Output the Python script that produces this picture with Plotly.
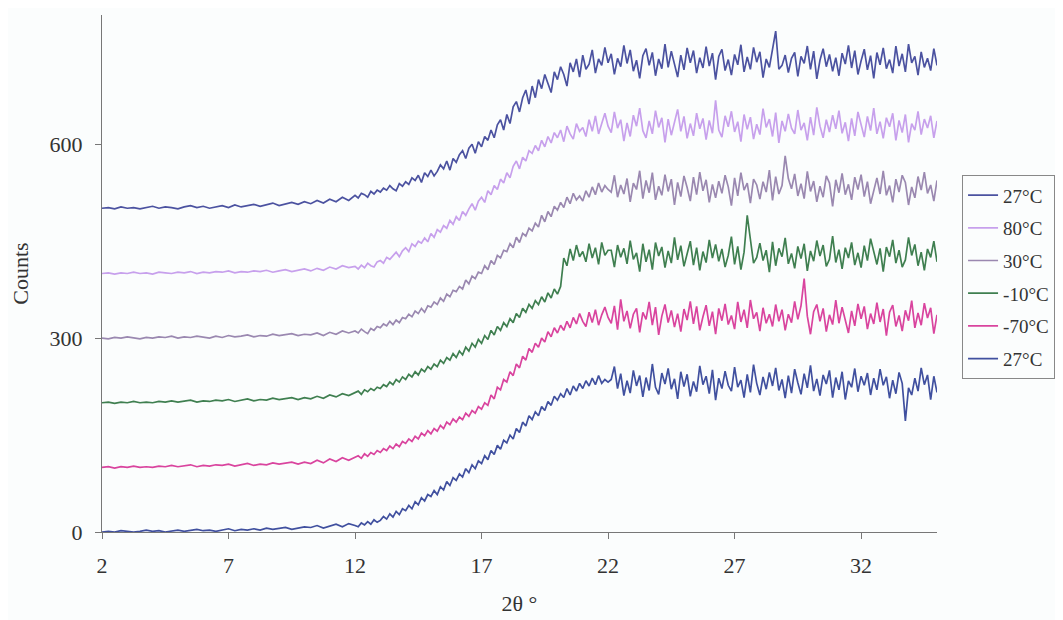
import numpy as np
import plotly.graph_objects as go

# 2-theta grid (degrees): 0.25 steps over the flat part, 0.125 steps from 12 to 35
two_theta = np.round(np.concatenate([np.arange(2.0, 12.0, 0.25), np.arange(12.0, 35.001, 0.125)]), 3)

labels = ["27°C", "80°C", "30°C", "-10°C", "-70°C", "27°C"]
colors = ["#4b52a0", "#c7a0ec", "#9a88b0", "#3f7f50", "#d9449e", "#40509f"]

counts_27a = [
    501, 502, 500, 503, 501, 502, 500, 502, 504, 501,
    503, 502, 500, 503, 505, 502, 504, 501, 503, 505,
    502, 506, 503, 505, 507, 504, 506, 509, 505, 508,
    510, 507, 511, 508, 513, 509, 515, 511, 518, 513,
    521, 517, 524, 522, 518, 527, 523, 529,
    526, 532, 529, 536, 531, 528, 539, 535,
    542, 538, 548, 544, 552, 541, 556, 550,
    560, 551, 558, 568, 562, 574, 560, 578,
    572, 584, 590, 578, 594, 600, 586, 604,
    596, 612, 606, 622, 610, 630, 638, 622,
    646, 632, 658, 666, 650, 672, 684, 662,
    690, 672, 700, 686, 708, 694, 680, 712,
    700, 720, 708, 690, 726, 712, 732, 704,
    738, 716, 724, 746, 710, 732, 722, 750,
    726,
    740, 708, 733, 720, 753, 725, 746, 713, 730, 702,
    737, 748, 722, 742, 706, 732, 717, 755, 719, 744,
    724, 704, 738, 715, 749, 726, 745, 710, 734, 718,
    751, 721, 741, 700, 736, 747, 714, 731, 707, 739,
    723, 754, 712, 735, 716, 750, 727, 743, 703, 732,
    719, 746, 775, 716, 722, 738, 711, 733, 742, 705,
    736, 725, 752, 716, 744, 701, 730, 748, 720, 739,
    713, 734, 706, 741, 724, 753, 718, 745, 708, 729,
    747, 715, 737, 702, 742, 723, 749, 717, 731, 710,
    752, 721, 740, 712, 755, 726, 736, 707, 743, 719,
    733, 714, 748, 722,
]

counts_80 = [
    400, 401, 399, 401, 400, 402, 400, 401, 399, 402,
    401, 400, 402, 401, 403, 400, 402, 401, 403, 402,
    404, 401, 403, 402, 404, 403, 405, 402, 404, 406,
    403, 405, 407, 404, 408, 405, 410, 407, 412, 409,
    411, 407, 413, 409, 416, 412, 410, 418,
    420, 416, 425, 422, 428, 433, 426, 435,
    440, 434, 446, 442, 450, 447, 455, 449,
    462, 456, 468, 464, 474, 470, 482, 476,
    488, 482, 496, 490, 500, 508, 498, 512,
    518, 510, 528, 522, 536, 530, 546, 540,
    556, 548, 566, 574, 562, 580, 574, 590,
    586, 598, 590, 606, 596, 612, 602, 618,
    610, 622, 604, 628, 616, 608, 632, 620,
    626, 612, 638, 620, 644, 616, 632, 648,
    628,
    618, 650, 625, 638, 605, 633, 612, 645, 628, 656,
    621, 610, 636, 616, 652, 626, 641, 603, 639, 614,
    634, 654, 620, 643, 609, 632, 613, 648, 624, 640,
    607, 637, 617, 668, 622, 611, 644, 627, 651, 619,
    635, 604, 646, 623, 642, 608, 631, 615, 655, 626,
    639, 612, 649, 602, 636, 620, 647, 625, 616, 653,
    622, 633, 606, 642, 614, 657, 628, 610, 638, 619,
    645, 624, 652, 617, 634, 605, 640, 613, 650, 629,
    611, 643, 621, 656, 616, 635, 609, 641, 627, 648,
    606, 637, 618, 646, 603, 632, 622, 651, 615, 639,
    625, 644, 610, 636,
]

counts_30 = [
    300, 299, 301, 300, 302, 300, 299, 301, 300, 302,
    301, 303, 300, 302, 301, 303, 302, 300, 303, 301,
    304, 302, 303, 305, 302, 304, 303, 306, 304, 305,
    307, 304, 306, 305, 308, 304, 309, 306, 311, 308,
    311, 308, 314, 310, 307, 315, 312, 318,
    316, 322, 319, 326, 321, 328, 324, 332,
    330, 337, 333, 342, 338, 346, 340, 350,
    348, 356, 352, 362, 357, 368, 364, 374,
    372, 380, 376, 390, 384, 396, 392, 402,
    400, 412, 406, 420, 414, 428, 424, 436,
    434, 446, 440, 456, 448, 462, 458, 470,
    466, 478, 472, 490, 480, 496, 488, 504,
    498, 510, 502, 518, 508, 524, 514, 520,
    512, 528, 518, 534, 522, 540, 526, 536,
    530,
    526, 552, 518, 537,
    523, 547, 511, 540, 530, 559, 516, 544, 525, 556,
    514, 535, 521, 553, 527, 546, 506, 541, 519, 551,
    533, 512, 549, 522, 557, 528, 545, 510, 538, 517,
    543, 524, 552, 534, 505, 548, 520, 556, 529, 540,
    509, 546, 537, 515, 542, 526, 560, 513, 550, 523,
    536, 582, 547, 531, 554, 520, 539, 516, 558, 527,
    543, 511, 535, 518, 551, 540, 504, 545, 525, 555,
    522, 538, 514, 549, 530, 553, 519, 542, 508, 528,
    548, 523, 559, 521, 536, 510, 546, 526, 552, 541,
    506, 534, 517, 550, 529, 557, 524, 537, 512, 544,
]

counts_m10 = [
    200, 201, 199, 201, 200, 202, 200, 201, 200, 202,
    201, 203, 201, 202, 204, 201, 203, 202, 204, 203,
    205, 202, 204, 206, 203, 205, 204, 207, 205, 206,
    208, 205, 208, 206, 210, 207, 212, 209, 214, 211,
    215, 218, 213, 220, 217, 222, 219, 224,
    222, 228, 225, 232, 228, 236, 232, 240,
    236, 244, 240, 248, 243, 252, 248, 256,
    252, 260, 256, 266, 261, 270, 266, 276,
    270, 280, 274, 286, 280, 292, 286, 298,
    292, 304, 298, 312, 305, 318, 312, 324,
    318, 330, 324, 338, 332, 346, 340, 352,
    346, 358, 352, 364, 356, 370, 362, 376,
    368, 380, 424, 412, 438, 420, 444, 426,
    434, 418, 446, 424, 440, 414, 448, 428,
    436,
    436, 410, 444, 425,
    439, 415, 451, 422, 432, 403, 446, 418, 437, 406,
    448, 427, 441, 409, 435, 416, 456, 421, 443, 411,
    429, 450, 413, 440, 405, 434, 417, 452, 424, 445,
    419, 438, 410, 428, 457, 414, 442, 406, 433, 490,
    453, 416, 425, 447, 420, 436, 402, 449, 412, 439,
    426, 455, 415, 431, 408, 442, 423, 446, 404, 435,
    419, 451, 427, 444, 411, 422, 458, 417, 437, 407,
    440, 424, 448, 413, 432, 409, 443, 420, 454, 434,
    414, 439, 403, 441, 426, 452, 416, 436, 410, 421,
    456, 428, 445, 412, 433, 405, 438, 425, 450, 418,
]

counts_m70 = [
    100, 101, 99, 101, 100, 102, 100, 101, 100, 102,
    101, 103, 101, 102, 104, 101, 103, 102, 104, 103,
    105, 102, 104, 106, 103, 105, 104, 107, 105, 106,
    108, 105, 108, 106, 111, 107, 113, 109, 115, 111,
    115, 118, 114, 121, 117, 123, 120, 126,
    123, 129, 126, 133, 129, 136, 132, 140,
    137, 144, 140, 148, 144, 153, 149, 157,
    152, 160, 156, 165, 160, 170, 166, 175,
    170, 178, 174, 184, 179, 188, 184, 194,
    190, 200, 196, 212, 206, 224, 220, 236,
    232, 248, 242, 260, 254, 272, 266, 284,
    278, 292, 286, 300, 294, 310, 302, 316,
    308, 320, 312, 326, 316, 332, 322, 338,
    326, 318, 340, 324, 344, 320, 336, 348,
    332,
    323, 350, 313, 360, 326, 342, 315, 337, 346, 309,
    340, 329, 356, 320, 348, 305, 334, 352, 324, 343,
    317, 338, 310, 345, 328, 357, 322, 349, 312, 333,
    351, 319, 341, 306, 346, 327, 353, 321, 335, 314,
    356, 325, 344, 316, 359, 330, 340, 311, 347, 323,
    337, 318, 352, 326,
    344, 312, 337, 324, 357, 329, 350, 392, 334, 306,
    341, 352, 326, 346, 310, 336, 321, 359, 323, 348,
    328, 308, 342, 319, 353, 330, 349, 314, 338, 322,
    355, 325, 345, 304, 340, 351, 318, 335, 311, 343,
    327, 358, 316, 339, 320, 354, 331, 347, 307, 336,
]

counts_27b = [
    0, 1, 0, 2, 1, 0, 1, 3, 1, 2,
    0, 2, 3, 1, 2, 4, 2, 3, 1, 3,
    5, 2, 4, 3, 5, 3, 6, 4, 5, 7,
    4, 6, 8, 7, 10, 6, 9, 12, 8, 13,
    10, 8, 14, 11, 16, 12, 19, 15,
    18, 24, 20, 28, 23, 32, 27, 36,
    33, 41, 36, 47, 42, 53, 48, 58,
    55, 64, 58, 70, 65, 78, 72, 84,
    80, 90, 85, 98, 92, 104, 98, 110,
    106, 118, 112, 126, 120, 134, 128, 142,
    138, 150, 144, 160, 154, 170, 164, 180,
    174, 186, 180, 194, 188, 202, 196, 210,
    204, 214, 208, 222, 212, 226, 218, 230,
    222, 234, 226, 238, 228, 242, 230, 236,
    232,
    236, 256, 222, 245, 211, 234, 215, 250, 226, 242,
    209, 239, 219, 260, 224, 213, 246, 229, 253, 221,
    237, 206, 248, 225, 244, 210, 233, 217, 257, 228,
    241, 214, 251, 204, 238, 222, 249, 227, 218, 255,
    224, 235, 208, 244, 216, 259, 230, 212, 240, 221,
    247, 226, 254, 219, 236, 207, 242, 215, 252, 231,
    213, 245, 223, 258, 218, 237, 211, 243, 229, 250,
    208, 239, 220, 248, 205, 234, 224, 253, 217, 241,
    227, 246, 212, 238,
    220, 252, 227, 240, 207, 235, 214, 247, 230, 172,
    223, 212, 238, 218, 254, 228, 243, 205, 241, 216,
]

series = [counts_27a, counts_80, counts_30, counts_m10, counts_m70, counts_27b]

x_ticks = [2, 7, 12, 17, 22, 27, 32]
y_ticks = [0, 300, 600]

font_family = "Liberation Serif, Times New Roman, serif"

fig = go.Figure()
for i, (name, col, ys) in enumerate(zip(labels, colors, series)):
    fig.add_trace(go.Scatter(
        x=two_theta, y=ys, mode="lines", name=name,
        line=dict(color=col, width=1.7),
        legendgroup=f"g{i}",
    ))

fig.update_layout(
    width=1063, height=620,
    margin=dict(l=94, r=134, t=7, b=96),
    paper_bgcolor="#fbfdfd", plot_bgcolor="#fbfdfd",
    font=dict(family=font_family, size=22, color="#333333"),
    showlegend=True,
    legend=dict(
        x=1.03, y=0.69, xanchor="left", yanchor="top",
        bordercolor="#888888", borderwidth=1, bgcolor="#fbfdfd",
        font=dict(family=font_family, size=19, color="#333333"),
        tracegroupgap=5, itemwidth=30,
    ),
    xaxis=dict(
        range=[2, 35], tickvals=x_ticks, ticktext=[str(v) for v in x_ticks],
        showgrid=False, zeroline=False, showline=True, linecolor="#777777", linewidth=1,
        ticks="outside", ticklen=6, tickcolor="#777777", ticklabelstandoff=8,
        tickfont=dict(family=font_family, size=22),
        title=dict(text="2θ °", standoff=18, font=dict(family=font_family, size=22)),
    ),
    yaxis=dict(
        range=[0, 800], tickvals=y_ticks, ticktext=[str(v) for v in y_ticks],
        showgrid=False, zeroline=False, showline=True, linecolor="#777777", linewidth=1,
        ticks="outside", ticklen=6, tickcolor="#777777", ticklabelstandoff=8,
        tickfont=dict(family=font_family, size=22),
        title=dict(text="Counts", standoff=20, font=dict(family=font_family, size=22)),
    ),
)

fig.write_html("out.html")
